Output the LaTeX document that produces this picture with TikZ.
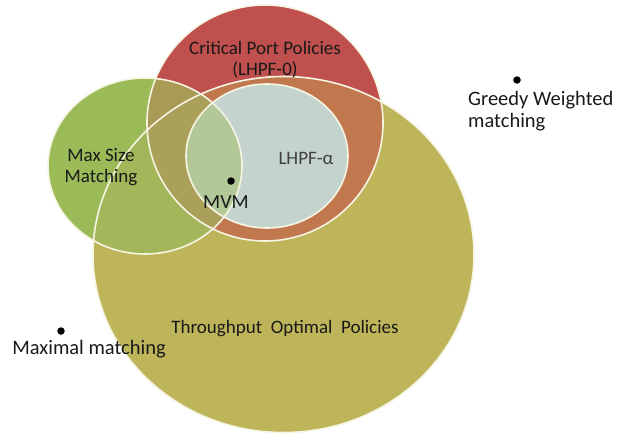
\documentclass[tikz,border=0pt]{standalone}
\usepackage{fontspec}
\setmainfont{Carlito}
\usetikzlibrary{positioning}
\definecolor{olive-fill}{HTML}{BEB55A}
\definecolor{red-fill}{HTML}{C0504D}
\definecolor{orange-fill}{HTML}{C1784F}
\definecolor{green-fill}{HTML}{9BBB59}
\definecolor{green-olive}{HTML}{A3B75A}
\definecolor{green-red}{HTML}{A99A56}
\definecolor{green-orange}{HTML}{AAA05A}
\definecolor{blue-fill}{HTML}{C5D3CF}
\definecolor{blue-green}{HTML}{B3C898}
\definecolor{rim-col}{HTML}{F6F4E2}
\newcommand{\oliveset}{(283.5,254.5) ellipse [x radius=190.5pt, y radius=178pt]}
\newcommand{\redset}{(265,123) ellipse [x radius=118pt, y radius=118pt]}
\newcommand{\greenset}{(145,166) ellipse [x radius=97pt, y radius=88pt]}
\newcommand{\blueset}{(267,156) ellipse [x radius=81pt, y radius=72pt]}

\begin{document}
\begin{tikzpicture}[x=1pt, y=-1pt,
    rim/.style={draw=rim-col, line width=1.6pt},
    lbl/.style={font=\fontsize{19}{21}\selectfont, text=black!90, align=center, inner sep=0pt},
    outlbl/.style={lbl, font=\fontsize{20.5}{22}\selectfont},
    dot/.style={circle, fill=black, inner sep=0pt, minimum size=7.5pt}]
    \useasboundingbox (0,0) rectangle (627,434);
    \fill[olive-fill] \oliveset;
    \fill[red-fill] \redset;
    \begin{scope}
        \clip \oliveset;
        \fill[orange-fill] \redset;
    \end{scope}
    \fill[green-fill] \greenset;
    \begin{scope}
        \clip \greenset;
        \fill[green-olive] \oliveset;
        \fill[green-red] \redset;
        \clip \oliveset;
        \fill[green-orange] \redset;
    \end{scope}
    \fill[blue-fill] \blueset;
    \begin{scope}
        \clip \greenset;
        \fill[blue-green] \blueset;
    \end{scope}
    % outlines on top
    \draw[rim] \oliveset;
    \draw[rim] \redset;
    \draw[rim] \greenset;
    \draw[rim] \blueset;
    % labels
    \node[lbl] (critical) at (265,59.5) {Critical Port Policies\\(LHPF-0)};
    \node[lbl] (maxsize) at (101,167) {Max Size\\Matching};
    \node[lbl, text=black!75] (lhpf) at (306,158) {LHPF-α};
    \node[lbl] (throughput) at (285,329) {Throughput\ \ Optimal\ \ Policies};
    \node[dot] (mvmdot) at (231,181) {};
    \node[lbl, font=\fontsize{20}{22}\selectfont] (mvm) at (226,202) {MVM};
    \node[dot] (greedydot) at (517,80) {};
    \node[outlbl, align=left, anchor=west] (greedy) at (468,111) {Greedy Weighted\\matching};
    \node[dot] (maximaldot) at (61,331) {};
    \node[outlbl] (maximal) at (89,349) {Maximal matching};
\end{tikzpicture}
\end{document}
